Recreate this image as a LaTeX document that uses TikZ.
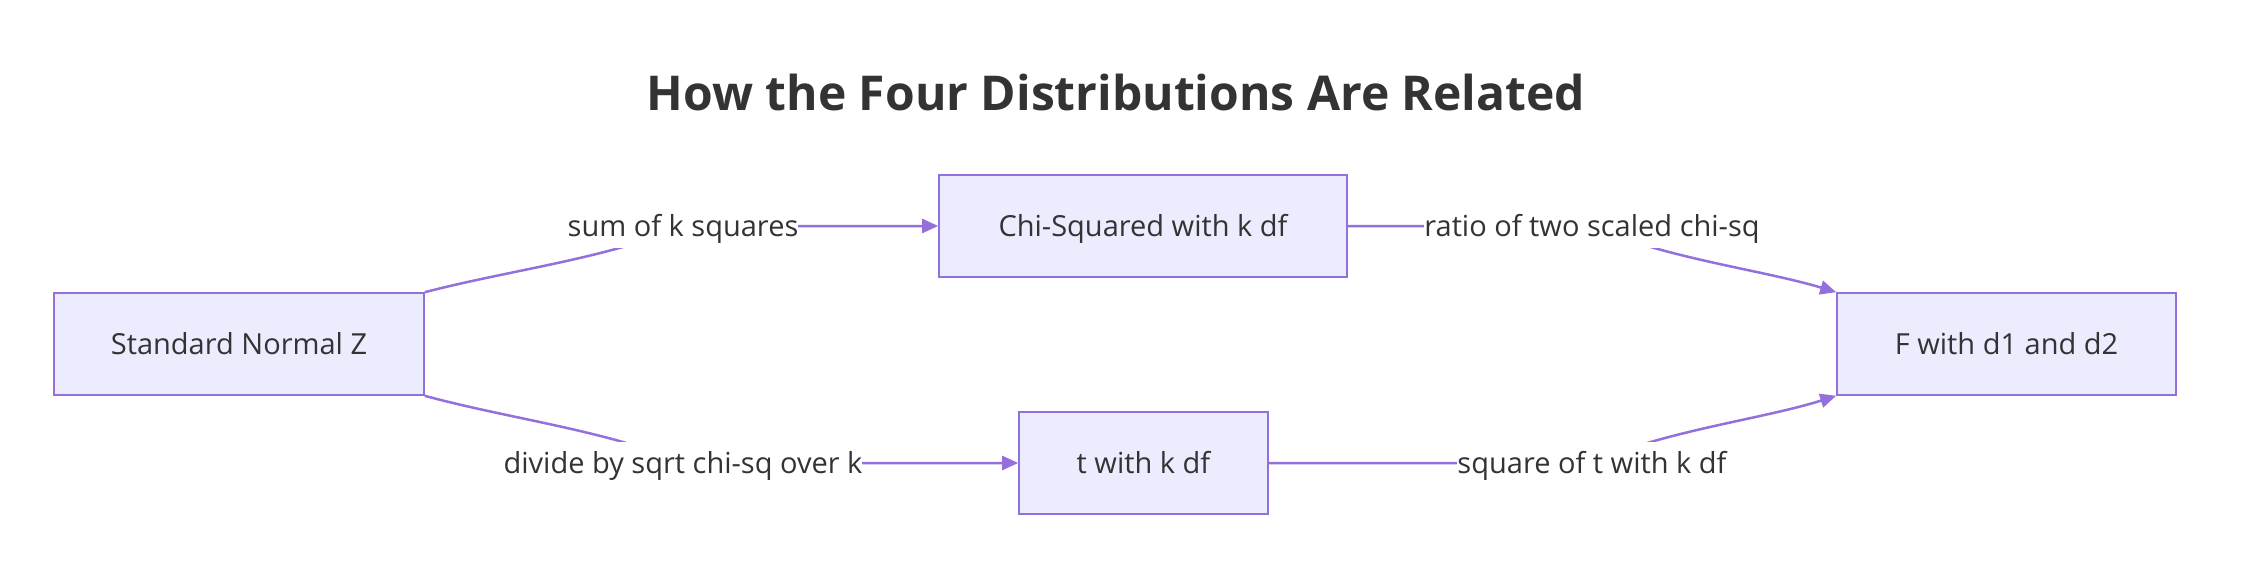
\documentclass[tikz,border=0pt]{standalone}
\usepackage{fontspec}
\setmainfont{Open Sans}
\usetikzlibrary{arrows.meta}
\definecolor{boxfill}{HTML}{ECECFF}
\definecolor{boxline}{HTML}{9370DB}
\definecolor{txt}{HTML}{333333}
\pgfdeclarelayer{bg}
\pgfdeclarelayer{edges}
\pgfsetlayers{bg,edges,main}
\begin{document}
\begin{tikzpicture}[x=1bp,y=-1bp,
  lbl/.style={text=txt, font=\fontsize{29bp}{35bp}\selectfont, text height=21bp, text depth=0bp},
  box/.style={lbl, draw=boxline, line width=1.6bp, fill=boxfill, minimum height=102bp, inner sep=0pt},
  elabel/.style={lbl, fill=white, inner xsep=0pt, inner ysep=0pt, minimum height=43bp},
  edge/.style={draw=boxline, line width=2.5bp, -{Triangle[length=16bp,width=14bp]}}]
\begin{pgfonlayer}{bg}
\fill[white] (0,0) rectangle (2248,574);
\end{pgfonlayer}
\useasboundingbox (0,0) rectangle (2248,574);
\node[text=txt, font=\fontsize{48bp}{58bp}\selectfont\bfseries] (title) at (1116,93) {How the Four Distributions Are Related};
\node[box, minimum width=370bp] (sn) at (239,344) {Standard Normal Z};
\node[box, minimum width=408bp] (chi) at (1143,226) {Chi-Squared with k df};
\node[box, minimum width=249bp] (tt) at (1143.5,463) {t with k df};
\node[box, minimum width=339bp] (ff) at (2006.5,344) {F with d1 and d2};
\node[elabel] (l1) at (683,226) {sum of k squares};
\node[elabel] (l2) at (683,463) {divide by sqrt chi-sq over k};
\node[elabel] (l3) at (1592,226) {ratio of two scaled chi-sq};
\node[elabel] (l4) at (1592,463) {square of t with k df};
\begin{pgfonlayer}{edges}
\draw[edge] (sn.north east) .. controls (510,270) and (610,258) .. (l1.center) -- (chi.west);
\draw[edge] (sn.south east) .. controls (510,419) and (610,431) .. (l2.center) -- (tt.west);
\draw[edge] (chi.east) -- (l3.center) .. controls (1663,258) and (1763,270) .. (ff.north west);
\draw[edge] (tt.east) -- (l4.center) .. controls (1663,431) and (1763,419) .. (ff.south west);
\end{pgfonlayer}
\end{tikzpicture}
\end{document}
